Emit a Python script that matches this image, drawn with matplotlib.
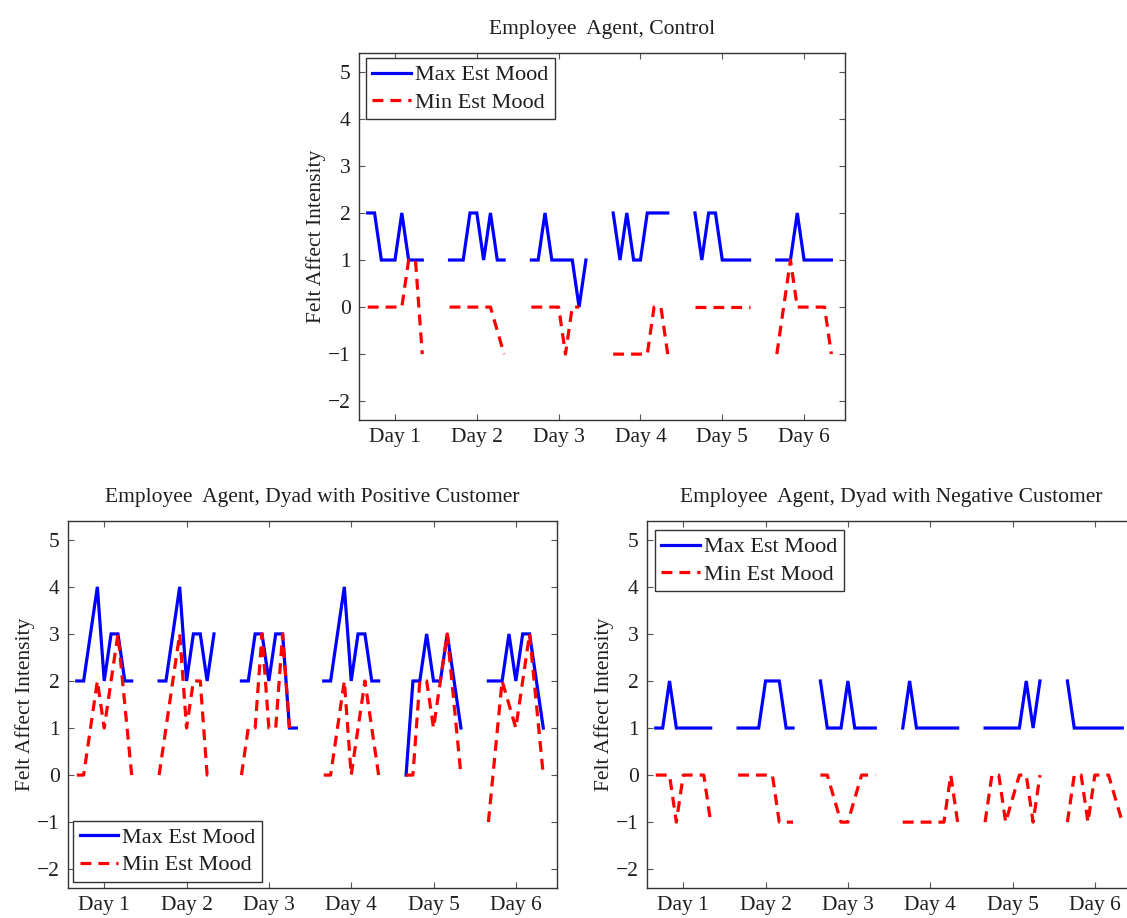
import numpy as np
import matplotlib
matplotlib.use("Agg")
import matplotlib.pyplot as plt

plt.rcParams['font.family'] = ['Liberation Serif', 'DejaVu Serif']

days = ["Day 1", "Day 2", "Day 3", "Day 4", "Day 5", "Day 6"]
hours = [8, 10, 12, 14, 16, 18, 20, 22, 24]   # sample times within a day
nan = np.nan

# ---- Employee Agent, Control ----
control_max = [
    [2, 2, 1, 1, 1, 2, 1, 1, 1],
    [1, 1, 1, 2, 2, 1, 2, 1, 1],
    [1, 1, 2, 1, 1, 1, 1, 0, 1],
    [2, 1, 2, 1, 1, 2, 2, 2, 2],
    [2, 1, 2, 2, 1, 1, 1, 1, 1],
    [1, 1, 1, 2, 1, 1, 1, 1, 1],
]
control_min = [
    [0, 0, 0, 0, 0, 0, 1, 1, -1],
    [0, 0, 0, 0, 0, 0, 0, -0.5, -1],
    [0, 0, 0, 0, 0, -1, 0, 0, nan],
    [-1, -1, -1, -1, -1, -1, 0, 0, -1],
    [0, 0, 0, 0, 0, 0, 0, 0, 0],
    [-1, 0, 1, 0, 0, 0, 0, 0, -1],
]

# ---- Employee Agent, Dyad with Positive Customer ----
pos_max = [
    [2, 2, 3, 4, 2, 3, 3, 2, 2],
    [2, 2, 3, 4, 2, 3, 3, 2, 3],
    [2, 2, 3, 3, 2, 3, 3, 1, 1],
    [2, 2, 3, 4, 2, 3, 3, 2, 2],
    [0, 2, 2, 3, 2, 2, 3, 2, 1],
    [2, 2, 2, 3, 2, 3, 3, 2, 1],
]
pos_min = [
    [0, 0, 1, 2, 1, 2, 3, 1.5, 0],
    [0, 1, 2, 3, 1, 2, 2, 0, 0],
    [0, 1, 1, 3, 1, 1, 3, 1, nan],
    [0, 0, 1, 2, 0, 1, 2, 1, 0],
    [0, 0, 2, 2, 1, 2, 3, 1.5, 0],
    [-1, 0.5, 2, 1.5, 1, 2, 3, 1.5, 0],
]

# ---- Employee Agent, Dyad with Negative Customer ----
neg_max = [
    [1, 1, 2, 1, 1, 1, 1, 1, 1],
    [1, 1, 1, 1, 2, 2, 2, 1, 1],
    [2, 1, 1, 1, 2, 1, 1, 1, 1],
    [1, 2, 1, 1, 1, 1, 1, 1, 1],
    [1, 1, 1, 1, 1, 1, 2, 1, 2],
    [2, 1, 1, 1, 1, 1, 1, 1, 1],
]
neg_min = [
    [0, 0, 0, -1, 0, 0, 0, 0, -1],
    [0, 0, 0, 0, 0, 0, -1, -1, -1],
    [0, 0, -0.5, -1, -1, -0.5, 0, 0, 0],
    [-1, -1, -1, -1, -1, -1, -1, 0, -1],
    [-1, 0, 0, -1, -0.5, 0, 0, -1, 0],
    [-1, 0, 0, -1, 0, 0, 0, -0.5, -1],
]

W, H = 1127, 918
fig = plt.figure(figsize=(W / 100, H / 100), dpi=100)
TXT = '#1e1e1e'


def add_ax(left, top, right, bottom):
    return fig.add_axes([left / W, 1 - bottom / H, (right - left) / W, (bottom - top) / H])


def draw(ax, vmax, vmin, title, legend_loc, legend_anchor):
    h_max = h_min = None
    for d in range(len(days)):
        x = [d + 1 + (h - 16) / 24 for h in hours]
        l1, = ax.plot(x, vmax[d], color='#0000ff', lw=2.3, solid_joinstyle='miter', zorder=3)
        l2, = ax.plot(x, vmin[d], color='#ff0000', lw=2.3, linestyle=(0, (3.4, 2.2)), zorder=4)
        h_max, h_min = l1, l2
    ax.set_xlim(0.56, 6.5)
    ax.set_ylim(-2.4, 5.4)
    ax.set_xticks(range(1, len(days) + 1))
    ax.set_xticklabels(days)
    ax.set_yticks(range(-2, 6))
    ax.set_yticklabels([f"{v}" if v >= 0 else f"\u2212{-v}" for v in range(-2, 6)])
    ax.tick_params(direction='in', top=True, right=True, length=4, width=0.8,
                   colors='#555555', labelcolor=TXT, labelsize=15.5, pad=6)
    for s in ax.spines.values():
        s.set_color('#333333')
        s.set_linewidth(1.0)
    ax.set_title(title, fontsize=15.5, color=TXT, pad=14)
    ax.set_ylabel('Felt Affect Intensity', fontsize=15.5, color=TXT, labelpad=1)
    leg = ax.legend([h_max, h_min], ['Max Est Mood', 'Min Est Mood'], loc=legend_loc,
                    bbox_to_anchor=legend_anchor, borderaxespad=0, fontsize=16,
                    handlelength=1.75, handletextpad=0.15, labelspacing=0.3,
                    borderpad=0.3, fancybox=False, framealpha=1, edgecolor='#333333')
    leg.get_frame().set_linewidth(1.0)
    for t in leg.get_texts():
        t.set_color(TXT)


ax1 = add_ax(359, 53, 845, 420)
draw(ax1, control_max, control_min, 'Employee  Agent, Control', 'upper left', (0.014, 0.986))

ax2 = add_ax(68, 521, 557, 888)
draw(ax2, pos_max, pos_min, 'Employee  Agent, Dyad with Positive Customer', 'lower left', (0.01, 0.016))

ax3 = add_ax(647, 521, 1136, 888)
draw(ax3, neg_max, neg_min, 'Employee  Agent, Dyad with Negative Customer', 'upper left', (0.016, 0.975))

fig.savefig('out.png', dpi=100)
